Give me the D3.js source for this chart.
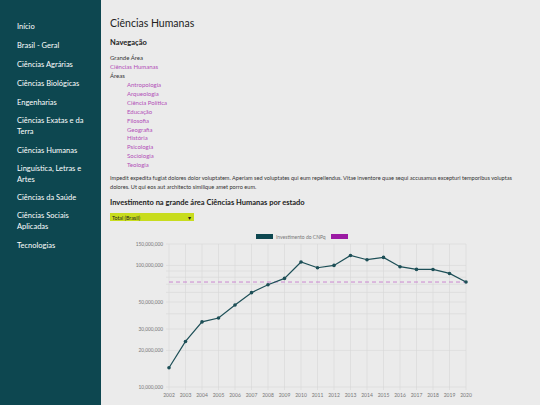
<!DOCTYPE html>
<html><head><meta charset="utf-8">
<script src="https://cdn.jsdelivr.net/npm/d3@7"></script>
<style>body{margin:0;background:#ebebeb;font-family:Lato,"Open Sans",sans-serif}</style>
</head><body><svg id="s" width="540" height="405"></svg>
<script>
const years=["2002","2003","2004","2005","2006","2007","2008","2009","2010","2011","2012","2013","2014","2015","2016","2017","2018","2019","2020"];
const invest=[14.4e6,23.7e6,34.3e6,36.9e6,47.2e6,59.7e6,69.4e6,78.2e6,106.7e6,95.7e6,100e6,120.8e6,111.4e6,116.4e6,97.6e6,92.7e6,92.6e6,85.9e6,73e6];
const media=73e6;
const yTicks=[10e6,20e6,30e6,50e6,100e6,150e6];
const gridVals=[10e6,20e6,30e6,40e6,50e6,60e6,70e6,80e6,90e6,100e6,150e6];
const menu=[["Início"],["Brasil - Geral"],["Ciências Agrárias"],["Ciências Biológicas"],["Engenharias"],["Ciências Exatas e da","Terra"],["Ciências Humanas"],["Linguística, Letras e","Artes"],["Ciências da Saúde"],["Ciências Sociais","Aplicadas"],["Tecnologias"]];
const menuY=[26,45,64,83,102,120,150,168,197,215,245];
const areas=["Antropologia","Arqueologia","Ciência Política","Educação","Filosofia","Geografia","História","Psicologia","Sociologia","Teologia"];

const svg=d3.select("#s");
svg.append("rect").attr("width",101).attr("height",405).attr("fill","#0d4750");
menu.forEach((m,i)=>m.forEach((t,j)=>svg.append("text").attr("x",17).attr("y",menuY[i]+j*11+3).attr("fill","#fff").attr("font-size",7.5).text(t)));
const T=(x,y,t,sz,c,w)=>svg.append("text").attr("x",x).attr("y",y).attr("font-size",sz).attr("fill",c||"#222").attr("font-weight",w||"normal").text(t);
T(110,27,"Ciências Humanas",10.5,"#222");
T(110,45,"Navegação",7.5,"#222","bold");
T(110,60,"Grande Área",6,"#333");
T(110,69,"Ciências Humanas",6,"#b24fb8");
T(110,78,"Áreas",6,"#333");
areas.forEach((a,i)=>T(127,87+i*8.9,a,6,"#b24fb8"));
T(110,180,"Impedit expedita fugiat dolores dolor voluptatem. Aperiam sed voluptates qui eum repellendus. Vitae inventore quae sequi accusamus excepturi temporibus voluptas",5.6,"#333");
T(110,189,"dolores. Ut qui eos aut architecto similique amet porro eum.",5.6,"#333");
T(110,205,"Investimento na grande área Ciências Humanas por estado",7.5,"#222","bold");
svg.append("rect").attr("x",110).attr("y",213).attr("width",84).attr("height",8).attr("fill","#c8dc1e");
T(112,219.5,"Total (Brasil)",5.3,"#222");
T(188,219.5,"▾",6,"#222");

const x=d3.scalePoint().domain(years).range([169,466]);
const y=d3.scaleLog().domain([10e6,150e6]).range([387,244]);
const g=svg.append("g");
g.selectAll(".gv").data(years).join("line").attr("x1",d=>x(d)).attr("x2",d=>x(d)).attr("y1",244).attr("y2",390).attr("stroke","#d6d6d6").attr("stroke-width",0.6);
g.selectAll(".gh").data(gridVals).join("line").attr("x1",166).attr("x2",466).attr("y1",d=>y(d)).attr("y2",d=>y(d)).attr("stroke","#d6d6d6").attr("stroke-width",0.6);
g.selectAll(".yl").data(yTicks).join("text").attr("x",163).attr("y",d=>y(d)+1.7).attr("text-anchor","end").attr("font-size",4.8).attr("fill","#777").text(d3.format(","));
g.selectAll(".xl").data(years).join("text").attr("x",d=>x(d)).attr("y",397).attr("text-anchor","middle").attr("font-size",5).attr("fill","#777").text(d=>d);
g.append("line").attr("x1",169).attr("x2",466).attr("y1",y(media)).attr("y2",y(media)).attr("stroke","#c77ccc").attr("stroke-width",0.9).attr("stroke-dasharray","4,3");
g.append("path").datum(invest).attr("fill","none").attr("stroke","#1d4f57").attr("stroke-width",1.2)
 .attr("d",d3.line().x((d,i)=>x(years[i])).y(d=>y(d)));
g.selectAll(".pt").data(invest).join("circle").attr("cx",(d,i)=>x(years[i])).attr("cy",d=>y(d)).attr("r",1.8).attr("fill","#1d4f57");
svg.append("rect").attr("x",256).attr("y",234).attr("width",17).attr("height",5).attr("fill","#0d4750");
T(276,238.5,"Investimento do CNPq",5,"#777");
svg.append("rect").attr("x",331).attr("y",234).attr("width",17).attr("height",5).attr("fill","#9b1aa3");
</script></body></html>
